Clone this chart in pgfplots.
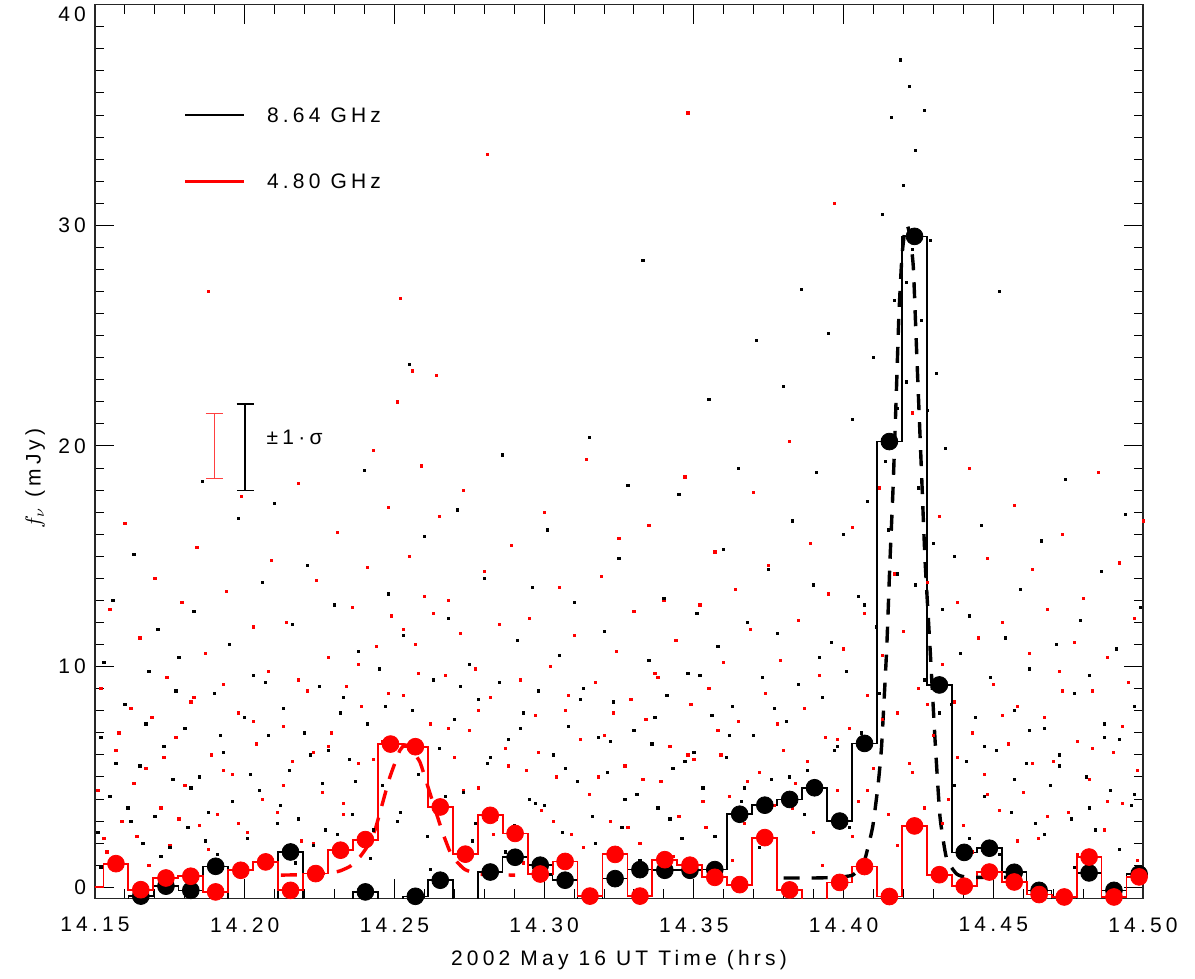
\documentclass[border=0pt]{standalone}
\usepackage{pgfplots}
\pgfplotsset{compat=1.18}
\usepackage{pgfplotstable}
\usepackage{fontspec}
\setmainfont{Liberation Sans}[LetterSpace=20]

\pgfplotstableread{
x blk red
14.1487 -0.80 0.02
14.1570 -0.56 1.07
14.1653 -0.40 -0.11
14.1737 0.05 0.42
14.1820 -0.14 0.50
14.1903 0.95 -0.21
14.1987 -0.80 0.77
14.2070 -0.80 1.15
14.2153 1.60 -0.14
14.2237 -0.56 0.62
14.2320 -0.80 1.68
14.2403 -0.21 2.16
14.2487 -0.80 6.49
14.2570 -0.41 6.37
14.2653 0.32 3.64
14.2737 -0.80 1.50
14.2820 0.69 3.26
14.2903 1.36 2.44
14.2987 1.00 0.60
14.3070 0.32 1.17
14.3153 -0.60 -0.40
14.3237 0.39 1.49
14.3320 0.80 -0.40
14.3403 0.77 1.25
14.3487 0.77 1.00
14.3570 0.80 0.45
14.3653 3.31 0.12
14.3737 3.72 2.25
14.3820 3.98 -0.12
14.3903 4.51 -0.80
14.3987 3.00 0.22
14.4070 6.52 0.94
14.4153 20.20 -0.42
14.4237 29.50 2.78
14.4320 9.17 0.57
14.4403 1.58 0.05
14.4487 1.77 0.69
14.4570 0.68 0.24
14.4653 -0.14 -0.33
14.4737 -0.80 -0.44
14.4820 0.65 1.37
14.4903 -0.14 -0.44
14.4987 0.60 0.47
}\bins

\pgfplotstableread{
x y
14.3800 0.42
14.3900 0.42
14.3980 0.45
14.4030 0.55
14.4065 1.0
14.4085 2.0
14.4098 2.8
14.4115 4.6
14.4127 6.4
14.4144 10.8
14.4155 14.8
14.4165 18.0
14.4175 21.9
14.4185 26.0
14.4195 28.6
14.4205 29.8
14.4213 30.0
14.4222 29.5
14.4233 28.1
14.4244 24.3
14.4260 18.9
14.4272 14.85
14.4289 10.8
14.4305 6.8
14.4322 3.2
14.4344 1.3
14.4378 0.6
14.4420 0.45
14.4620 0.45
}\blkmodel

\pgfplotstableread{
x y
14.2121 0.55
14.2218 0.58
14.2285 0.65
14.2318 0.74
14.2352 0.95
14.2385 1.38
14.2412 1.9
14.2435 2.59
14.2458 3.7
14.2485 5.0
14.2518 6.2
14.2535 6.45
14.2551 6.35
14.2585 5.68
14.2612 4.55
14.2639 3.4
14.2662 2.44
14.2686 1.6
14.2709 1.15
14.2736 0.8
14.2786 0.59
14.2903 0.55
}\redmodel

\begin{document}
\begin{tikzpicture}[font=\fontsize{10.5}{12.6}\selectfont]
\begin{axis}[
  at={(0,0)}, anchor=south west,
  scale only axis, width=524pt, height=446.8pt,
  xmin=14.15, xmax=14.50, ymin=-0.5, ymax=40,
  xtick={14.15,14.20,14.25,14.30,14.35,14.40,14.45,14.50},
  xticklabels={14.15,14.20,14.25,14.30,14.35,14.40,14.45,14.50},
  minor x tick num=4,
  ytick={0,10,20,30,40},
  yticklabels={0,10,20,30,\raisebox{-8.4pt}[0pt][0pt]{40}},
  minor y tick num=9,
  tick align=inside,
  major tick length=9.5pt, minor tick length=4.5pt,
  tick style={black, line width=0.5pt},
  axis line style={line width=0.6pt, black!85},
  xticklabel style={yshift=-6pt},
  yticklabel style={xshift=-1pt},
  xlabel={2002 May 16 UT Time (hrs)},
  xlabel style={at={(rel axis cs:0.5,0)}, anchor=center, yshift=-31pt},
  ylabel={$f_\nu$ (mJy)},
  ylabel style={at={(rel axis cs:-0.057,0.47)}, anchor=center},
  clip=true,
]
% raw samples
\addplot[only marks, mark=square*, mark size=0.55pt, red] coordinates {
(14.151,4.4)(14.152,9.0)(14.154,1.6)(14.155,12.6)(14.157,6.2)(14.159,3.0)(14.160,16.5)(14.162,8.1)(14.164,2.3)(14.165,11.3)(14.167,5.4)(14.169,7.7)(14.170,14.0)(14.172,3.6)(14.174,9.5)(14.175,1.9)(14.177,6.8)(14.179,12.9)(14.180,4.6)(14.182,8.4)(14.184,15.4)(14.185,2.8)(14.187,10.6)(14.188,27.0)(14.189,6.0)(14.191,3.3)(14.193,9.2)(14.194,13.4)(14.196,5.1)(14.198,7.9)(14.199,17.7)(14.201,2.5)(14.203,11.8)(14.204,6.5)(14.206,4.0)(14.208,9.8)(14.209,14.8)(14.211,3.4)(14.213,7.3)(14.214,12.0)(14.216,5.7)(14.218,18.3)(14.219,2.1)(14.221,8.9)(14.223,6.1)(14.224,13.9)(14.226,4.3)(14.228,10.4)(14.229,7.0)(14.231,16.1)(14.233,3.8)(14.234,9.1)(14.236,12.7)(14.238,5.6)(14.239,8.2)(14.241,14.5)(14.243,19.8)(14.244,10.9)(14.246,6.6)(14.248,17.2)(14.249,12.3)(14.251,22.0)(14.252,26.7)(14.253,8.7)(14.255,15.0)(14.256,23.4)(14.257,11.0)(14.259,19.1)(14.260,13.2)(14.262,7.4)(14.264,23.2)(14.265,16.8)(14.267,9.6)(14.268,13.0)(14.270,5.9)(14.272,11.5)(14.273,18.0)(14.275,7.1)(14.277,9.9)(14.278,4.5)(14.280,14.3)(14.281,33.2)(14.282,8.6)(14.284,3.1)(14.285,11.9)(14.287,6.3)(14.289,15.5)(14.290,2.6)(14.292,9.4)(14.294,5.3)(14.295,12.2)(14.297,7.8)(14.299,3.5)(14.300,17.0)(14.302,10.0)(14.304,5.0)(14.305,13.6)(14.307,8.0)(14.309,2.4)(14.310,11.4)(14.312,6.7)(14.314,19.4)(14.315,4.2)(14.317,9.3)(14.319,14.1)(14.320,6.9)(14.322,3.0)(14.324,10.7)(14.325,15.8)(14.327,5.5)(14.329,8.5)(14.330,12.5)(14.332,2.0)(14.334,7.6)(14.335,16.4)(14.337,9.7)(14.339,4.8)(14.340,13.0)(14.342,6.4)(14.344,11.2)(14.345,3.2)(14.347,18.6)(14.348,35.1)(14.349,8.3)(14.350,5.8)(14.352,12.8)(14.354,2.7)(14.355,9.0)(14.357,15.2)(14.359,6.0)(14.360,10.2)(14.362,4.1)(14.364,13.5)(14.365,7.5)(14.367,2.9)(14.369,11.7)(14.370,17.9)(14.372,5.2)(14.374,8.8)(14.375,14.6)(14.377,3.7)(14.379,10.3)(14.380,6.2)(14.382,20.2)(14.384,4.7)(14.385,12.1)(14.387,8.1)(14.389,15.6)(14.390,2.5)(14.392,9.6)(14.394,6.8)(14.395,13.3)(14.397,31.0)(14.398,4.4)(14.400,10.8)(14.402,7.2)(14.403,16.3)(14.405,3.9)(14.407,12.4)(14.408,8.7)(14.410,5.4)(14.412,18.1)(14.413,10.5)(14.415,3.3)(14.417,14.2)(14.418,7.9)(14.420,11.6)(14.422,5.6)(14.423,21.5)(14.425,9.0)(14.427,3.6)(14.428,13.8)(14.430,6.9)(14.432,16.8)(14.433,10.1)(14.435,4.0)(14.437,8.4)(14.438,12.9)(14.440,2.8)(14.442,19.0)(14.443,7.0)(14.445,11.3)(14.447,5.1)(14.448,14.9)(14.450,9.2)(14.452,3.5)(14.453,12.0)(14.455,6.5)(14.457,17.3)(14.458,8.2)(14.460,4.3)(14.462,10.6)(14.463,14.4)(14.465,2.2)(14.467,7.7)(14.468,12.6)(14.470,5.7)(14.472,9.8)(14.473,16.0)(14.475,3.4)(14.477,11.1)(14.478,6.6)(14.480,13.1)(14.482,4.9)(14.483,8.9)(14.485,18.8)(14.487,2.6)(14.488,10.4)(14.490,6.1)(14.492,14.7)(14.493,3.8)(14.495,9.3)(14.497,12.2)(14.498,5.3)(14.500,16.6)
(14.153,2.2)(14.158,7.0)(14.163,4.7)(14.168,1.0)(14.173,5.9)(14.178,3.1)(14.183,8.6)(14.188,1.7)(14.193,5.3)(14.198,2.9)(14.203,7.5)(14.208,1.3)(14.213,4.6)(14.218,9.4)(14.223,2.0)(14.228,6.4)(14.233,3.3)(14.238,10.1)(14.243,5.8)(14.248,8.8)(14.253,11.7)(14.258,9.7)(14.263,12.4)(14.268,7.2)(14.273,4.4)(14.278,8.0)(14.283,2.4)(14.288,5.5)(14.293,1.1)(14.298,6.1)(14.303,3.0)(14.308,8.7)(14.313,1.8)(14.318,5.0)(14.323,7.9)(14.328,2.7)(14.333,4.9)(14.338,9.5)(14.343,1.4)(14.348,6.0)(14.353,3.9)(14.358,7.1)(14.363,1.2)(14.368,4.8)(14.373,2.5)(14.378,7.4)(14.383,3.6)(14.388,5.7)(14.393,1.0)(14.398,6.7)(14.403,2.3)(14.408,4.4)(14.413,7.6)(14.418,1.9)(14.423,5.2)(14.428,8.3)(14.433,2.9)(14.438,5.9)(14.443,1.6)(14.448,4.2)(14.453,7.8)(14.458,2.1)(14.463,5.6)(14.468,3.2)(14.473,8.9)(14.478,1.5)(14.483,6.3)(14.488,3.9)(14.493,7.3)(14.498,1.2)
};
\addplot[only marks, mark=square*, mark size=0.55pt, black] coordinates {
(14.151,2.5)(14.152,6.8)(14.153,10.2)(14.155,4.1)(14.156,13.0)(14.158,1.2)(14.160,8.3)(14.161,3.6)(14.163,15.1)(14.165,5.5)(14.166,2.0)(14.168,9.8)(14.170,3.2)(14.171,11.7)(14.173,6.4)(14.175,1.8)(14.176,4.9)(14.178,10.4)(14.180,7.2)(14.181,2.7)(14.183,12.5)(14.185,5.0)(14.186,18.4)(14.188,3.4)(14.190,8.8)(14.191,1.5)(14.193,6.1)(14.195,11.0)(14.196,3.9)(14.198,16.7)(14.200,7.7)(14.201,2.2)(14.203,9.6)(14.205,4.4)(14.206,13.8)(14.208,6.9)(14.210,17.4)(14.211,2.9)(14.213,8.1)(14.215,5.3)(14.216,11.9)(14.218,3.1)(14.220,7.0)(14.221,14.6)(14.223,1.9)(14.225,9.1)(14.226,4.7)(14.228,6.2)(14.230,12.8)(14.231,2.4)(14.233,8.6)(14.235,5.8)(14.236,3.3)(14.238,10.7)(14.240,18.9)(14.241,7.4)(14.243,2.6)(14.245,9.9)(14.246,4.6)(14.248,13.3)(14.250,6.6)(14.251,3.0)(14.253,11.4)(14.255,23.7)(14.256,8.0)(14.258,5.1)(14.260,15.9)(14.261,2.3)(14.263,9.4)(14.265,6.3)(14.266,3.8)(14.268,12.2)(14.270,7.6)(14.271,17.1)(14.273,4.3)(14.275,10.1)(14.276,2.1)(14.278,8.5)(14.280,14.0)(14.281,5.6)(14.283,3.5)(14.285,9.3)(14.286,19.6)(14.288,6.7)(14.290,2.8)(14.291,11.2)(14.293,7.9)(14.295,4.0)(14.296,13.6)(14.298,8.9)(14.300,3.7)(14.301,16.2)(14.303,6.0)(14.305,10.5)(14.306,2.5)(14.308,7.3)(14.310,12.9)(14.311,4.8)(14.313,9.0)(14.315,20.4)(14.316,3.2)(14.318,6.8)(14.320,11.6)(14.321,5.2)(14.323,8.4)(14.325,14.9)(14.326,2.7)(14.328,18.2)(14.330,7.1)(14.331,4.2)(14.333,28.4)(14.335,10.3)(14.336,6.5)(14.338,3.6)(14.340,13.1)(14.341,8.7)(14.343,5.4)(14.345,17.8)(14.346,2.2)(14.348,9.7)(14.350,6.1)(14.351,12.4)(14.353,4.5)(14.355,22.1)(14.356,7.8)(14.358,10.9)(14.360,15.3)(14.361,5.9)(14.363,8.2)(14.365,19.0)(14.366,3.9)(14.368,12.0)(14.370,6.9)(14.371,24.8)(14.373,9.5)(14.375,14.4)(14.376,4.9)(14.378,11.5)(14.380,22.7)(14.381,7.5)(14.383,16.6)(14.385,9.2)(14.386,27.1)(14.388,5.3)(14.390,13.7)(14.391,18.8)(14.393,8.6)(14.395,25.1)(14.396,11.1)(14.398,6.4)(14.400,16.0)(14.401,9.8)(14.403,21.2)(14.405,13.2)(14.406,7.0)(14.408,17.5)(14.410,24.0)(14.411,11.8)(14.413,30.5)(14.414,19.3)(14.416,34.9)(14.417,26.6)(14.418,14.2)(14.419,37.5)(14.420,31.8)(14.421,22.9)(14.422,36.3)(14.423,28.9)(14.424,33.4)(14.425,18.1)(14.426,25.7)(14.427,35.2)(14.428,21.6)(14.429,29.3)(14.430,15.6)(14.431,23.3)(14.433,12.6)(14.434,19.9)(14.436,8.3)(14.437,15.0)(14.439,10.6)(14.441,5.7)(14.442,12.3)(14.444,7.7)(14.446,16.4)(14.447,4.1)(14.449,9.5)(14.451,6.2)(14.452,27.0)(14.454,11.3)(14.456,3.4)(14.457,8.0)(14.459,13.5)(14.461,5.6)(14.462,9.9)(14.464,2.9)(14.466,15.7)(14.467,7.2)(14.469,4.6)(14.471,11.0)(14.472,6.0)(14.474,18.5)(14.476,3.1)(14.477,8.8)(14.479,12.1)(14.481,5.0)(14.482,9.6)(14.484,2.6)(14.486,14.3)(14.487,7.4)(14.489,4.4)(14.491,10.8)(14.492,6.7)(14.494,16.9)(14.496,3.7)(14.497,8.2)(14.499,12.7)
(14.152,0.9)(14.157,5.6)(14.162,3.0)(14.167,7.4)(14.172,1.4)(14.177,8.9)(14.182,4.5)(14.187,2.1)(14.192,6.9)(14.197,0.7)(14.202,5.1)(14.207,9.3)(14.212,3.7)(14.217,1.1)(14.222,6.0)(14.227,2.6)(14.232,7.9)(14.237,4.8)(14.242,1.3)(14.247,8.2)(14.252,3.4)(14.257,6.3)(14.262,0.8)(14.267,4.1)(14.272,9.1)(14.277,2.9)(14.282,5.9)(14.287,1.6)(14.292,7.2)(14.297,3.8)(14.302,0.6)(14.307,5.4)(14.312,8.5)(14.317,2.0)(14.322,6.6)(14.327,4.0)(14.332,1.2)(14.337,7.7)(14.342,3.1)(14.347,5.7)(14.352,9.6)(14.357,2.3)(14.362,6.9)(14.367,4.5)(14.372,1.8)(14.377,8.1)(14.382,5.0)(14.387,3.3)(14.392,10.4)(14.397,6.2)(14.402,2.7)(14.407,12.8)(14.412,8.8)(14.415,16.2)(14.418,21.7)(14.421,27.4)(14.424,13.7)(14.427,9.4)(14.432,7.9)(14.437,4.6)(14.442,2.2)(14.447,6.4)(14.452,1.5)(14.457,4.9)(14.462,7.1)(14.467,2.4)(14.472,5.5)(14.477,0.9)(14.482,3.6)(14.487,6.8)(14.492,1.7)(14.497,4.2)
};
% binned 8.64 GHz
\addplot[const plot mark mid, black, line width=0.8pt] table[x=x, y=blk] {\bins};
\addplot[only marks, mark=*, mark size=4.2pt, black] table[x=x, y=blk] {\bins};
% binned 4.80 GHz
\addplot[const plot mark mid, red, line width=0.9pt] table[x=x, y=red] {\bins};
\addplot[only marks, mark=*, mark size=4.2pt, red] table[x=x, y=red] {\bins};
% models
\addplot[black, line width=1.7pt, dash pattern=on 8pt off 6pt, smooth, tension=0.3] table[x=x, y=y] {\blkmodel};
\addplot[red, line width=1.7pt, dash pattern=on 8pt off 6pt, smooth, tension=0.3] table[x=x, y=y] {\redmodel};
% sigma bars
\addplot[red!75, mark=none, line width=0.6pt, error bars/.cd, y dir=both, y explicit,
  error bar style={red!75, line width=0.6pt},
  error mark=-,
  error mark options={rotate=90, red!75, mark size=4.25pt, line width=0.6pt}]
  coordinates {(14.1898,20.0) +- (0,1.47)};
\addplot[black, mark=none, line width=0.6pt, error bars/.cd, y dir=both, y explicit,
  error bar style={black, line width=0.6pt},
  error mark=-,
  error mark options={rotate=90, black, mark size=4.25pt, line width=0.6pt}]
  coordinates {(14.2001,19.94) +- (0,1.96)};
\node[anchor=west] at (axis cs:14.2050,20.4) {±1·σ};
% legend
\draw[black, line width=0.6pt] (axis cs:14.1801,35.0) -- (axis cs:14.1998,35.0);
\node[anchor=west] at (axis cs:14.2051,35.0) {8.64 GHz};
\draw[red, line width=1.3pt] (axis cs:14.1801,32.0) -- (axis cs:14.1998,32.0);
\node[anchor=west] at (axis cs:14.2051,32.0) {4.80 GHz};
\end{axis}
\pgfresetboundingbox
\path[use as bounding box] (-47.5pt,-40.35pt) rectangle (550pt,449.15pt);
\end{tikzpicture}
\end{document}
